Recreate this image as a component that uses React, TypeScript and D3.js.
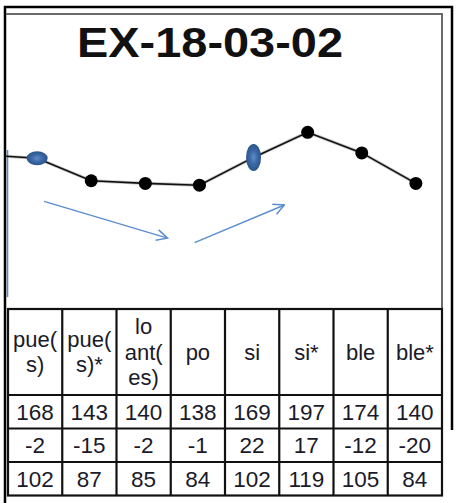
import React from 'react'
import * as d3 from 'd3'

// chart data
const title = 'EX-18-03-02'
const categories = [['pue(', 's)'], ['pue(', 's)*'], ['lo', 'ant(', 'es)'], ['po'], ['si'], ['si*'], ['ble'], ['ble*']]
const values = [168, 143, 140, 138, 169, 197, 174, 140]
const changes = [-2, -15, -2, -1, 22, 17, -12, -20]
const indexes = [102, 87, 85, 84, 102, 119, 105, 84]
const prevValue = 172 // point before the first column, off the left edge
const highlightWide = [0]
const highlightTall = [4]
// trend arrows, in (column index, value) space
const trends = [
  { i0: 0.13, v0: 120, i1: 2.41, v1: 79 },
  { i0: 2.91, v0: 74, i1: 4.57, v1: 116 },
]

const W = 457
const H = 503
const font = '"Liberation Sans", Arial, sans-serif'

const App: React.FC = () => {
  const tableLeft = 8
  const tableRight = 442
  const tableTop = 309
  const headerBottom = 395
  const rowH = 33.5
  const n = categories.length
  const colW = (tableRight - tableLeft) / n

  const x = d3.scaleLinear().domain([0, n - 1]).range([tableLeft + colW / 2 + 2, tableRight - colW / 2 + 1])
  const y = d3.scaleLinear().domain([0, 200]).range([tableTop, tableTop - 200 * 0.897])

  const pts: [number, number][] = [[x(-1), y(prevValue)], ...values.map((v, i) => [x(i), y(v)] as [number, number])]
  const line = d3.line()(pts) || ''

  const rows = [values, changes, indexes]
  const rowTops = rows.map((_, r) => headerBottom + r * rowH)
  const tableBottom = headerBottom + rows.length * rowH

  return (
    <div style={{ position: 'fixed', left: 0, top: 0 }}>
      <svg width={W} height={H} style={{ display: 'block', background: '#fff' }}>
        <defs>
          <clipPath id="plot">
            <rect x={6} y={14} width={436} height={tableTop - 14} />
          </clipPath>
          <radialGradient id="blob" cx="50%" cy="50%" r="50%">
            <stop offset="0%" stopColor="#5f8cc6" />
            <stop offset="55%" stopColor="#3a67a3" />
            <stop offset="100%" stopColor="#2a558c" />
          </radialGradient>
          <marker id="head" viewBox="0 0 12 12" refX={11} refY={6} markerWidth={13} markerHeight={13}
            markerUnits="userSpaceOnUse" orient="auto">
            <path d="M1,1 L11,6 L1,11" fill="none" stroke="#5b8fd0" strokeWidth={1.4} />
          </marker>
        </defs>

        {/* outer page frame */}
        <path d={`M5,${H} V7 H452 V430`} fill="none" stroke="#000" strokeWidth={2.5} />
        {/* inner chart frame */}
        <path d={`M6,14 H442 V${tableTop}`} fill="none" stroke="#6a6a6a" strokeWidth={2} />

        <text x={210} y={57} textAnchor="middle" fontFamily={font} fontWeight="bold" fontSize={43}
          textLength={266} lengthAdjust="spacingAndGlyphs" fill="#111">{title}</text>

        <line x1={7.5} x2={7.5} y1={150} y2={297} stroke="#5a88c8" strokeWidth={1.6} />

        <g clipPath="url(#plot)">
          <path d={line} fill="none" stroke="#8a8a8a" strokeWidth={3.2} opacity={0.5} />
          <path d={line} fill="none" stroke="#111" strokeWidth={1.6} />
          {values.map((v, i) =>
            highlightWide.includes(i) ? (
              <ellipse key={i} cx={x(i)} cy={y(v)} rx={10.5} ry={7} fill="url(#blob)" />
            ) : highlightTall.includes(i) ? (
              <ellipse key={i} cx={x(i)} cy={y(v)} rx={7.5} ry={13.5} fill="url(#blob)" />
            ) : (
              <circle key={i} cx={x(i)} cy={y(v)} r={6.5} fill="#000" />
            )
          )}
          {trends.map((t, k) => (
            <line key={k} x1={x(t.i0)} y1={y(t.v0)} x2={x(t.i1)} y2={y(t.v1)}
              stroke="#5b8fd0" strokeWidth={1.5} markerEnd="url(#head)" />
          ))}
        </g>

        {/* table */}
        <g fontFamily={font} fill="#1a1a2a" textAnchor="middle">
          {categories.map((lines, i) => {
            const cx = tableLeft + colW * (i + 0.5)
            const mid = (tableTop + headerBottom) / 2
            const lh = 25.5
            return (
              <text key={i} fontSize={22}>
                {lines.map((s, j) => (
                  <tspan key={j} x={cx} y={mid + (j - (lines.length - 1) / 2) * lh + 7.5}>{s}</tspan>
                ))}
              </text>
            )
          })}
          {rows.map((row, r) =>
            row.map((v, i) => (
              <text key={`${r}-${i}`} x={tableLeft + colW * (i + 0.5)} y={rowTops[r] + rowH / 2 + 8}
                fontSize={22.5}>{v}</text>
            ))
          )}
        </g>
        <g stroke="#111" strokeWidth={2.2} fill="none">
          <rect x={tableLeft} y={tableTop} width={tableRight - tableLeft} height={tableBottom - tableTop} />
          {d3.range(1, n).map((i) => (
            <line key={i} x1={tableLeft + colW * i} x2={tableLeft + colW * i} y1={tableTop} y2={tableBottom} />
          ))}
          {[headerBottom, ...rowTops.slice(1)].map((yy, k) => (
            <line key={k} x1={tableLeft} x2={tableRight} y1={yy} y2={yy} />
          ))}
        </g>
      </svg>
    </div>
  )
}

export default App
